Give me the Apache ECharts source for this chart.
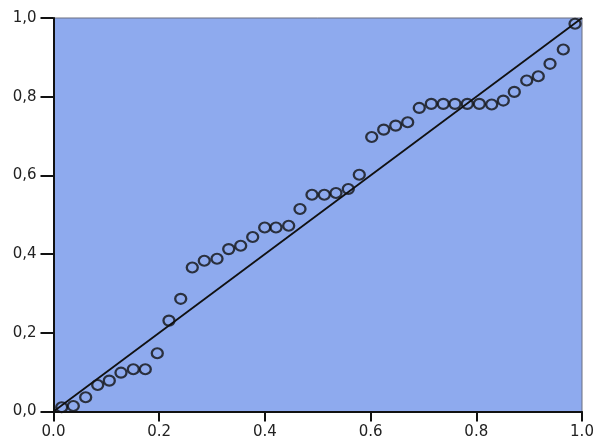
<!DOCTYPE html>
<html>
<head>
<meta charset="utf-8">
<script src="https://cdn.jsdelivr.net/npm/echarts@6/dist/echarts.min.js"></script>
<style>html,body{margin:0;padding:0;background:#fff;}#c{width:598px;height:440px;}</style>
</head>
<body>
<div id="c"></div>
<script>
// Expected cumulative probability (x) and observed cumulative probability (y)
var expectedProb = [0.0155,0.0375,0.0609,0.0836,0.1056,0.1277,0.1510,0.1737,0.1964,0.2185,
  0.2407,0.2626,0.2853,0.3094,0.3315,0.3542,0.3769,0.3996,0.4210,0.4450,
  0.4664,0.4891,0.5124,0.5345,0.5578,0.5786,0.6021,0.6248,0.6475,0.6702,
  0.6921,0.7148,0.7375,0.7597,0.7830,0.8057,0.8291,0.8511,0.8719,0.8954,
  0.9173,0.9395,0.9646,0.9868];
var observedProb = [0.0107,0.0140,0.0361,0.0674,0.0784,0.0987,0.1074,0.1074,0.1481,0.2310,
  0.2863,0.3659,0.3830,0.3880,0.4127,0.4211,0.4433,0.4677,0.4677,0.4720,
  0.5145,0.5509,0.5509,0.5552,0.5654,0.6018,0.6977,0.7163,0.7265,0.7349,
  0.7715,0.7817,0.7817,0.7817,0.7817,0.7817,0.7800,0.7901,0.8122,0.8410,
  0.8519,0.8835,0.9198,0.9852];
var refLineX = [0, 1];
var refLineY = [0, 1];
var xTickLabels = ['0.0','0.2','0.4','0.6','0.8','1.0'];
var yTickLabels = ['0,0','0,2','0,4','0,6','0,8','1,0'];

var pts = expectedProb.map(function(x, i){ return [x, observedProb[i]]; });
var line = refLineX.map(function(x, i){ return [x, refLineY[i]]; });

var chart = echarts.init(document.getElementById('c'), null, {renderer:'canvas'});
var font = 'DejaVu Sans';
chart.setOption({
  animation: false,
  backgroundColor: '#ffffff',
  grid: {left: 53.5, right: 16, top: 18, bottom: 28.5, show: true,
         backgroundColor: '#8eaaee', borderColor: '#6b6f80', borderWidth: 1},
  xAxis: {
    type: 'value', min: 0, max: 1, interval: 0.2,
    axisLine: {show: true, onZero: false, lineStyle: {color: '#111', width: 2}},
    axisTick: {show: true, length: 10, lineStyle: {color: '#111', width: 2}},
    splitLine: {show: false},
    axisLabel: {margin: 13, fontFamily: font, fontSize: 15, color: '#222',
      formatter: function(v){ return xTickLabels[Math.round(v/0.2)]; }}
  },
  yAxis: {
    type: 'value', min: 0, max: 1, interval: 0.2,
    axisLine: {show: true, onZero: false, lineStyle: {color: '#111', width: 2}},
    axisTick: {show: true, length: 13, lineStyle: {color: '#111', width: 2}},
    splitLine: {show: false},
    axisLabel: {margin: 17, fontFamily: font, fontSize: 15, color: '#222',
      formatter: function(v){ return yTickLabels[Math.round(v/0.2)]; }}
  },
  series: [
    {type: 'line', data: line, symbol: 'none', silent: true,
     lineStyle: {color: '#111', width: 1.8}, z: 3},
    {type: 'scatter', data: pts, symbol: 'circle', symbolSize: [11, 10],
     itemStyle: {color: 'rgba(0,0,0,0)', borderColor: '#111', borderWidth: 2.2}, z: 4}
  ]
});
</script>
</body>
</html>
